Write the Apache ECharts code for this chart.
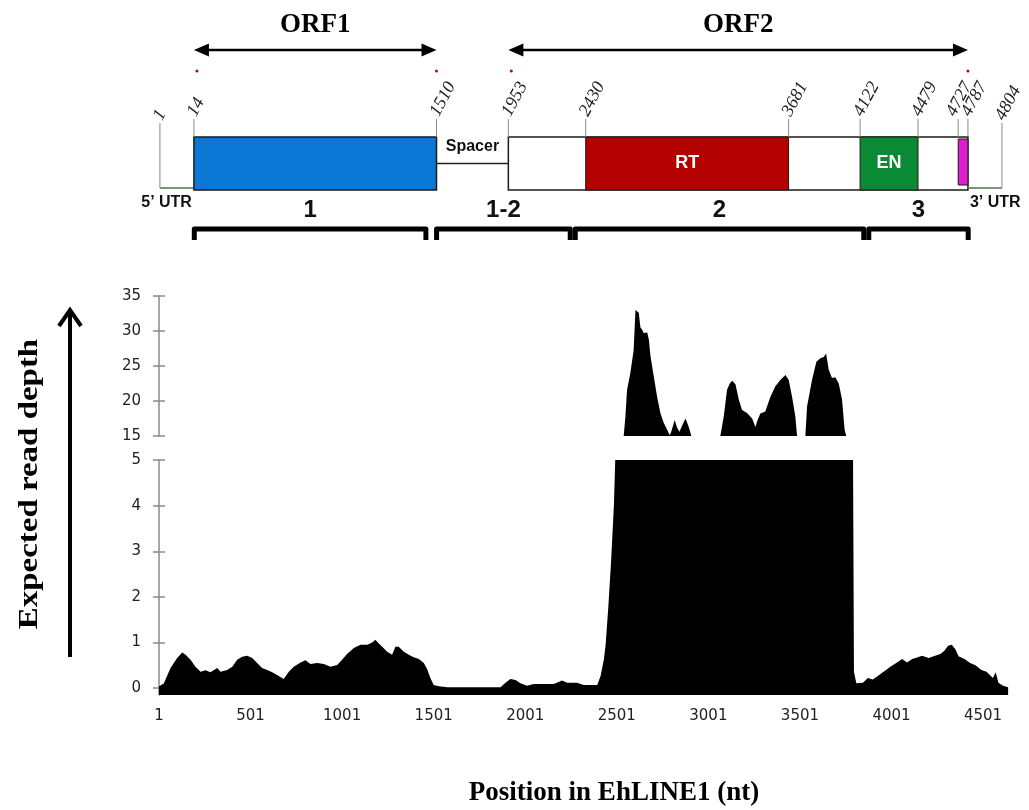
<!DOCTYPE html>
<html lang="en">
<head>
<meta charset="UTF-8">
<title>EhLINE1 read depth</title>
<style>
    body { margin: 0; background: #fff; }
    #chart { width: 1029px; height: 810px; }
</style>
</head>
<body>
<div id="chart"></div>
<script src="https://cdn.jsdelivr.net/npm/echarts@6.0.0/dist/echarts.min.js"></script>
<script>
    // expected read depth along EhLINE1 (position in nt, depth)
    var positions = [
        1, 27, 64, 100, 128, 146, 173, 200, 228, 255,
        282, 319, 337, 373, 401, 428, 455, 483, 510, 537,
        564, 592, 619, 646, 682, 710, 737, 774, 801, 828,
        865, 901, 937, 974, 1001, 1028, 1065, 1101, 1138, 1165,
        1183, 1196, 1220, 1247, 1274, 1292, 1310, 1338, 1365, 1392,
        1420, 1447, 1465, 1483, 1501, 1529, 1575, 1866, 1893, 1920,
        1948, 1975, 2011, 2047, 2157, 2202, 2230, 2284, 2320, 2394,
        2412, 2430, 2440, 2455, 2470, 2485, 2500, 2520, 2539, 2548,
        2557, 2575, 2593, 2603, 2612, 2621, 2630, 2639, 2648, 2667,
        2676, 2685, 2703, 2721, 2739, 2757, 2776, 2790, 2797, 2817,
        2830, 2843, 2858, 2876, 2894, 2907, 2920, 3000, 3050, 3067,
        3085, 3103, 3118, 3131, 3149, 3167, 3185, 3212, 3240, 3258,
        3270, 3285, 3312, 3340, 3367, 3394, 3422, 3440, 3458, 3476,
        3485, 3500, 3520, 3531, 3540, 3567, 3591, 3613, 3631, 3644,
        3658, 3676, 3694, 3713, 3731, 3745, 3753, 3770, 3790, 3796,
        3809, 3845, 3872, 3899, 3930, 3958, 3995, 4031, 4059, 4086,
        4114, 4141, 4168, 4204, 4231, 4268, 4290, 4310, 4330, 4350,
        4367, 4400, 4430, 4460, 4492, 4520, 4555, 4570, 4585, 4610,
        4638
    ];
    var depth = [
        0.04, 0.10, 0.44, 0.66, 0.78, 0.73, 0.62, 0.47, 0.36, 0.39,
        0.35, 0.44, 0.36, 0.40, 0.47, 0.62, 0.69, 0.71, 0.66, 0.55,
        0.44, 0.40, 0.35, 0.29, 0.20, 0.36, 0.47, 0.56, 0.61, 0.53,
        0.55, 0.53, 0.47, 0.51, 0.62, 0.75, 0.88, 0.95, 0.95, 1.00,
        1.06, 1.00, 0.91, 0.80, 0.73, 0.91, 0.91, 0.80, 0.73, 0.68,
        0.64, 0.55, 0.42, 0.22, 0.07, 0.04, 0.02, 0.02, 0.12, 0.20,
        0.18, 0.11, 0.05, 0.09, 0.09, 0.17, 0.12, 0.12, 0.07, 0.07,
        0.26, 0.62, 0.95, 1.8, 2.8, 4.0, 6, 11, 15.1, 17.8,
        21.6, 24.0, 27.3, 33.0, 33.2, 32.6, 30.5, 30.2, 29.7, 29.8,
        28.8, 26.4, 23.5, 20.6, 18.3, 16.9, 15.9, 15.1, 15.5, 17.3,
        16.2, 15.6, 16.5, 17.5, 16.3, 15.1, 13, 12, 13, 15.1,
        17.8, 21.6, 22.5, 22.9, 22.4, 20.2, 18.7, 18.3, 17.5, 16.3,
        17.3, 18.2, 18.5, 20.6, 22.1, 23.0, 23.7, 23.0, 20.6, 17.8,
        15.1, 13, 13, 15.1, 19.2, 23.0, 25.6, 26.1, 26.3, 26.8,
        24.5, 23.3, 23.4, 22.5, 20.2, 15.9, 15.1, 12, 6, 0.36,
        0.11, 0.12, 0.22, 0.19, 0.28, 0.36, 0.47, 0.56, 0.64, 0.56,
        0.64, 0.67, 0.71, 0.66, 0.70, 0.75, 0.82, 0.93, 0.95, 0.85,
        0.70, 0.64, 0.55, 0.50, 0.40, 0.36, 0.22, 0.35, 0.12, 0.05,
        0.02
    ];

    // tick labels
    var xTicks = [1, 501, 1001, 1501, 2001, 2501, 3001, 3501, 4001, 4501];
    var lowTicks = [0, 1, 2, 3, 4, 5];

    // element map above the plot
    var boundaries = [1, 14, 1510, 1953, 2430, 3681, 4122, 4479, 4727, 4787, 4804];
    var geneParts = [
        ['5UTR', 1, 14],
        ['ORF1', 14, 1510],
        ['Spacer', 1510, 1953],
        ['ORF2', 1953, 4787],
        ['3UTR', 4787, 4804]
    ];
    var orfs = [['ORF1', 14, 1510], ['ORF2', 1953, 4787]];
    var domains = [['RT', 2430, 3681], ['EN', 4122, 4479], ['', 4727, 4787]];
    var regions = [['1', 1, 1460], ['1-2', 1495, 2350], ['2', 2350, 4160], ['3', 4160, 4804]];

    var partColor = { ORF1: '#0a78d4', ORF2: '#ffffff' };
    var domainColor = { RT: '#b30000', EN: '#0b8a36', '': '#e01ccf' };
    var UTR_W = 34;      // UTRs are drawn wider than scale, like in the schematic
    var LABEL_GAP = 15;  // min distance between two position labels
    var SANS = 'Liberation Sans';
    var SERIF = 'Liberation Serif';

    var depthData = positions.map(function (p, i) { return [p, depth[i]]; });

    function diagX(api, nt) {
        var orfStart = geneParts[1][1], orfEnd = geneParts[3][2];
        if (nt < orfStart) return api.coord([orfStart, 0])[0] - UTR_W;
        if (nt > orfEnd) return api.coord([orfEnd, 0])[0] + UTR_W;
        return api.coord([nt, 0])[0];
    }

    // label x for every boundary, pushed left when two come too close
    function labelXs(api) {
        var xs = boundaries.map(function (b) { return diagX(api, b); });
        for (var i = xs.length - 2; i >= 0; i--) {
            xs[i] = Math.min(xs[i], xs[i + 1] - LABEL_GAP);
        }
        return xs;
    }

    function renderGene(params, api) {
        var p = geneParts[params.dataIndex];
        var top = api.coord([p[1], 1])[1], bot = api.coord([p[1], 0])[1];
        var x1 = diagX(api, p[1]), x2 = diagX(api, p[2]);
        var kids = [];
        if (p[0] === 'ORF1' || p[0] === 'ORF2') {
            kids.push({ type: 'rect', shape: { x: x1, y: top, width: x2 - x1, height: bot - top },
                style: { fill: partColor[p[0]], stroke: '#1a1a1a', lineWidth: 1.5 } });
        } else if (p[0] === 'Spacer') {
            var mid = (top + bot) / 2;
            kids.push({ type: 'line', shape: { x1: x1, y1: mid, x2: x2, y2: mid }, style: { stroke: '#222', lineWidth: 1.5 } });
            kids.push({ type: 'text', x: (x1 + x2) / 2, y: top + 10,
                style: { text: 'Spacer', fontFamily: SANS, fontWeight: 'bold', fontSize: 16, fill: '#111', align: 'center', verticalAlign: 'middle' } });
        } else {
            kids.push({ type: 'line', shape: { x1: x1, y1: bot - 2, x2: x2, y2: bot - 2 }, style: { stroke: '#52704a', lineWidth: 1.5 } });
            var five = p[0] === '5UTR';
            kids.push({ type: 'text', x: five ? x2 - 2 : x1 + 2, y: bot + 13,
                style: { text: five ? '5\u2019 UTR' : '3\u2019 UTR', fontFamily: SANS, fontWeight: 'bold', fontSize: 16, fill: '#111',
                    align: five ? 'right' : 'left', verticalAlign: 'middle' } });
        }
        return { type: 'group', children: kids };
    }

    function renderDomain(params, api) {
        var d = domains[params.dataIndex];
        var top = api.coord([d[1], 1])[1], bot = api.coord([d[1], 0])[1];
        var x1 = api.coord([d[1], 0])[0], x2 = api.coord([d[2], 0])[0];
        var inset = d[0] ? [0, 0] : [2, 5];
        return { type: 'group', children: [
            { type: 'rect', shape: { x: x1, y: top + inset[0], width: x2 - x1, height: bot - top - inset[0] - inset[1] },
                style: { fill: domainColor[d[0]], stroke: '#1a1a1a', lineWidth: 1 } },
            { type: 'text', x: (x1 + x2) / 2, y: (top + bot) / 2,
                style: { text: d[0], fontFamily: SANS, fontWeight: 'bold', fontSize: 18, fill: '#fff', align: 'center', verticalAlign: 'middle' } }
        ] };
    }

    function renderMarker(params, api) {
        var i = params.dataIndex, nt = boundaries[i];
        var top = api.coord([nt, 1])[1], bot = api.coord([nt, 0])[1];
        var x = diagX(api, nt);
        var lx = labelXs(api)[i];
        var edge = i === 0 || i === boundaries.length - 1;
        var lineTop = edge ? top - 14 : top - 18;
        return { type: 'group', children: [
            { type: 'line', shape: { x1: x, y1: lineTop, x2: x, y2: edge ? bot - 2 : top }, style: { stroke: '#8a8a8a', lineWidth: 1 } },
            { type: 'text', x: lx - 2, y: lineTop - 4, rotation: 62 * Math.PI / 180,
                style: { text: String(nt), fontFamily: SERIF, fontStyle: 'italic', fontSize: 18, fill: '#1a1a1a', align: 'left', verticalAlign: 'middle' } }
        ] };
    }

    function renderOrf(params, api) {
        var o = orfs[params.dataIndex];
        var top = api.coord([o[1], 1])[1];
        var xs = api.coord([o[1], 1])[0], xe = api.coord([o[2], 1])[0];
        var y = top - 87;
        return { type: 'group', children: [
            { type: 'line', shape: { x1: xs + 8, y1: y, x2: xe - 8, y2: y }, style: { stroke: '#000', lineWidth: 2.5 } },
            { type: 'polygon', shape: { points: [[xs, y], [xs + 15, y - 6.5], [xs + 15, y + 6.5]] }, style: { fill: '#000' } },
            { type: 'polygon', shape: { points: [[xe, y], [xe - 15, y - 6.5], [xe - 15, y + 6.5]] }, style: { fill: '#000' } },
            { type: 'text', x: (xs + xe) / 2, y: top - 112,
                style: { text: o[0], fontFamily: SERIF, fontWeight: 'bold', fontSize: 27, fill: '#000', align: 'center', verticalAlign: 'middle' } },
            { type: 'circle', shape: { cx: xs + 3, cy: top - 66, r: 1.5 }, style: { fill: '#a01010' } },
            { type: 'circle', shape: { cx: xe, cy: top - 66, r: 1.5 }, style: { fill: '#a01010' } }
        ] };
    }

    function renderRegion(params, api) {
        var r = regions[params.dataIndex];
        var bot = api.coord([r[1], 0])[1];
        var x1 = api.coord([r[1], 0])[0], x2 = api.coord([r[2], 0])[0];
        return { type: 'group', children: [
            { type: 'text', x: (x1 + x2) / 2, y: bot + 20,
                style: { text: r[0], fontFamily: SANS, fontWeight: 'bold', fontSize: 24, fill: '#111', align: 'center', verticalAlign: 'middle' } },
            { type: 'polyline', shape: { points: [[x1 + 2.5, bot + 50], [x1 + 2.5, bot + 39], [x2 - 2.5, bot + 39], [x2 - 2.5, bot + 50]] },
                style: { stroke: '#000', lineWidth: 5, fill: null, lineJoin: 'round' } }
        ] };
    }

    var axisGray = '#8a8a8a';
    var labelStyle = { fontFamily: 'DejaVu Sans', fontSize: 15, color: '#222' };
    function plain(v) { return String(v); }

    // second copy of each y axis, only for the inner half of the crossing ticks
    function innerTicks(grid, extra) {
        return Object.assign({ gridIndex: grid, type: 'value', position: 'left', offset: 0,
            axisLine: { show: false }, axisLabel: { show: false }, splitLine: { show: false },
            axisTick: { show: true, inside: true, length: 6, lineStyle: { color: axisGray, width: 1.5 } } }, extra);
    }

    var chart = echarts.init(document.getElementById('chart'));
    var option = {
        animation: false,
        backgroundColor: '#fff',
        grid: [
            { left: 159, right: 20.5, top: 296, height: 140 },
            { left: 159, right: 20.5, top: 460, height: 235 },
            { left: 191.8, top: 137, width: 778.9, height: 53 }
        ],
        xAxis: [
            { gridIndex: 0, type: 'value', min: 1, max: 4640, show: false },
            { gridIndex: 1, type: 'value', min: 1, max: 4640,
                axisLine: { show: false }, axisTick: { show: false }, splitLine: { show: false },
                axisLabel: Object.assign({ customValues: xTicks, formatter: plain, margin: 14 }, labelStyle) },
            { gridIndex: 2, type: 'value', min: 1, max: 4804, show: false }
        ],
        yAxis: [
            { gridIndex: 0, type: 'value', min: 15, max: 35, interval: 5,
                axisLine: { show: true, lineStyle: { color: axisGray, width: 1.5 } },
                axisTick: { show: true, length: 6, lineStyle: { color: axisGray, width: 1.5 } },
                splitLine: { show: false },
                axisLabel: Object.assign({ formatter: plain, margin: 18 }, labelStyle) },
            { gridIndex: 1, type: 'value', min: -0.15, max: 5,
                axisLine: { show: true, lineStyle: { color: axisGray, width: 1.5 } },
                axisTick: { show: true, length: 6, customValues: lowTicks, lineStyle: { color: axisGray, width: 1.5 } },
                splitLine: { show: false },
                axisLabel: Object.assign({ customValues: lowTicks, formatter: plain, margin: 18 }, labelStyle) },
            { gridIndex: 2, type: 'value', min: 0, max: 1, show: false },
            innerTicks(0, { min: 15, max: 35, interval: 5 }),
            innerTicks(1, { min: -0.15, max: 5,
                axisTick: { show: true, inside: true, length: 6, customValues: lowTicks, lineStyle: { color: axisGray, width: 1.5 } } })
        ],
        series: [
            { type: 'line', xAxisIndex: 0, yAxisIndex: 0, data: depthData, symbol: 'none', silent: true,
                lineStyle: { width: 0 }, areaStyle: { color: '#000', opacity: 1, origin: 'start' } },
            { type: 'line', xAxisIndex: 1, yAxisIndex: 1, data: depthData, symbol: 'none', silent: true,
                lineStyle: { width: 0 }, areaStyle: { color: '#000', opacity: 1, origin: 'start' } },
            { type: 'custom', xAxisIndex: 2, yAxisIndex: 2, silent: true, renderItem: renderGene,
                data: geneParts.map(function (g) { return [g[1], g[2], 0.5]; }), encode: { x: [0, 1], y: 2 } },
            { type: 'custom', xAxisIndex: 2, yAxisIndex: 2, silent: true, renderItem: renderDomain,
                data: domains.map(function (d) { return [d[1], d[2], 0.5]; }), encode: { x: [0, 1], y: 2 } },
            { type: 'custom', xAxisIndex: 2, yAxisIndex: 2, silent: true, renderItem: renderMarker,
                data: boundaries.map(function (b) { return [b, 0.5]; }), encode: { x: 0, y: 1 } },
            { type: 'custom', xAxisIndex: 2, yAxisIndex: 2, silent: true, renderItem: renderOrf,
                data: orfs.map(function (o) { return [o[1], o[2], 0.5]; }), encode: { x: [0, 1], y: 2 } },
            { type: 'custom', xAxisIndex: 2, yAxisIndex: 2, silent: true, renderItem: renderRegion,
                data: regions.map(function (r) { return [r[1], r[2], 0.5]; }), encode: { x: [0, 1], y: 2 } }
        ],
        graphic: [
            { type: 'text', x: 30, y: 484, rotation: Math.PI / 2, scaleX: 1.22,
                style: { text: 'Expected read depth', fontFamily: SERIF, fontWeight: 'bold', fontSize: 27, fill: '#000', align: 'center', verticalAlign: 'middle' } },
            { type: 'line', shape: { x1: 70, y1: 657, x2: 70, y2: 311 }, style: { stroke: '#000', lineWidth: 4 } },
            { type: 'polyline', shape: { points: [[59, 326], [70, 310], [81, 326]] }, style: { stroke: '#000', lineWidth: 4, fill: null } },
            { type: 'text', x: 614, y: 793,
                style: { text: 'Position in EhLINE1 (nt)', fontFamily: SERIF, fontWeight: 'bold', fontSize: 27, fill: '#000', align: 'center', verticalAlign: 'middle' } }
        ]
    };
    chart.setOption(option);
</script>
</body>
</html>
